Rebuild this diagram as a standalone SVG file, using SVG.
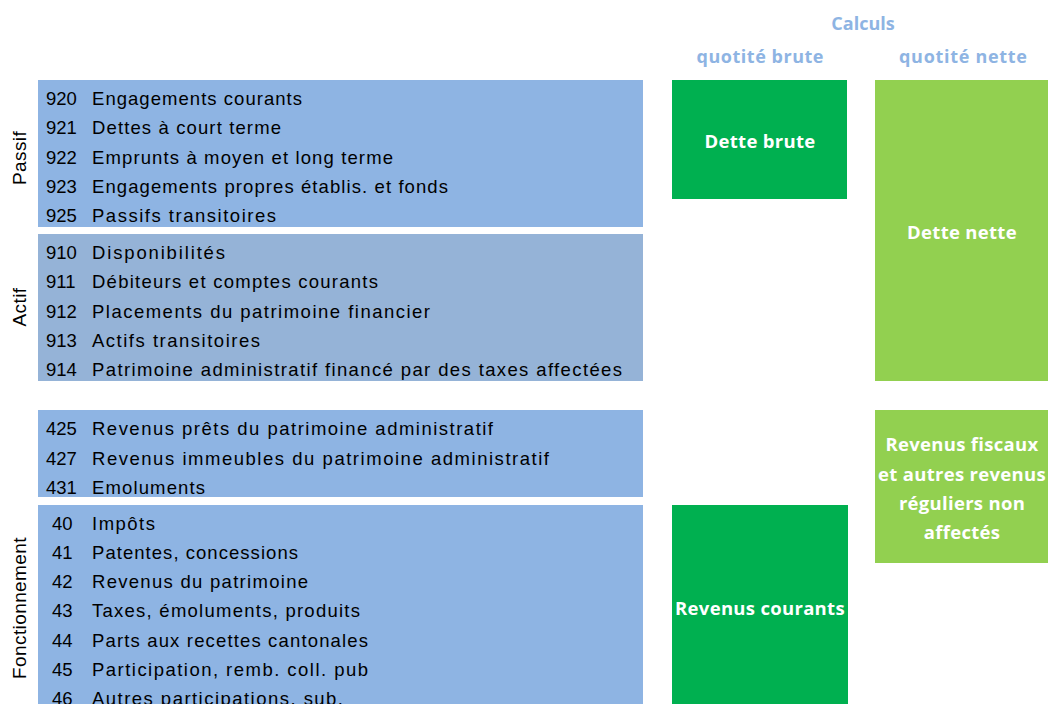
<svg xmlns="http://www.w3.org/2000/svg" width="1048" height="704" viewBox="0 0 1048 704">
<style>
.blue{fill:#8EB4E3}
.blue2{fill:#95B3D7}
.dg{fill:#00B050}
.lg{fill:#92D050}
.t{font-family:"Liberation Sans",Arial,sans-serif;font-size:18.5px;fill:#000}
.h{font-family:"Open Sans","Liberation Sans",sans-serif;font-size:18px;font-weight:bold;fill:#8EB4E3;text-anchor:middle}
.w{font-family:"Open Sans","Liberation Sans",sans-serif;font-size:18.5px;font-weight:bold;fill:#fff;text-anchor:middle;letter-spacing:0.3px}
.v{font-family:"Liberation Sans",Arial,sans-serif;font-size:19px;fill:#000;text-anchor:middle;letter-spacing:0.4px}
</style>
<rect width="1048" height="704" fill="#fff"/>
<g id="headers">
<text class="h" x="863" y="30">Calculs</text>
<text class="h" x="760" y="63" textLength="127" lengthAdjust="spacing">quotité brute</text>
<text class="h" x="963" y="63" textLength="128" lengthAdjust="spacing">quotité nette</text>
</g>
<g id="passif">
<rect class="blue" x="38" y="80" width="605" height="147"/>
<text class="v" transform="translate(26,158) rotate(-90)">Passif</text>
<text class="t" x="46" y="105">920</text><text class="t" x="92" y="105" textLength="210" lengthAdjust="spacing">Engagements courants</text>
<text class="t" x="46" y="134">921</text><text class="t" x="92" y="134" textLength="189" lengthAdjust="spacing">Dettes à court terme</text>
<text class="t" x="46" y="164">922</text><text class="t" x="92" y="164" textLength="301" lengthAdjust="spacing">Emprunts à moyen et long terme</text>
<text class="t" x="46" y="193">923</text><text class="t" x="92" y="193" textLength="356" lengthAdjust="spacing">Engagements propres établis. et fonds</text>
<text class="t" x="46" y="222">925</text><text class="t" x="92" y="222" textLength="184" lengthAdjust="spacing">Passifs transitoires</text>
</g>
<g id="actif">
<rect class="blue2" x="38" y="234" width="605" height="147"/>
<text class="v" transform="translate(26,307) rotate(-90)">Actif</text>
<text class="t" x="46" y="259">910</text><text class="t" x="92" y="259" textLength="133" lengthAdjust="spacing">Disponibilités</text>
<text class="t" x="46" y="288">911</text><text class="t" x="92" y="288" textLength="286" lengthAdjust="spacing">Débiteurs et comptes courants</text>
<text class="t" x="46" y="318">912</text><text class="t" x="92" y="318" textLength="338" lengthAdjust="spacing">Placements du patrimoine financier</text>
<text class="t" x="46" y="347">913</text><text class="t" x="92" y="347" textLength="168" lengthAdjust="spacing">Actifs transitoires</text>
<text class="t" x="46" y="376">914</text><text class="t" x="92" y="376" textLength="530" lengthAdjust="spacing">Patrimoine administratif financé par des taxes affectées</text>
</g>
<g id="revenus">
<rect class="blue" x="38" y="410" width="605" height="87"/>
<text class="t" x="46" y="435">425</text><text class="t" x="92" y="435" textLength="401" lengthAdjust="spacing">Revenus prêts du patrimoine administratif</text>
<text class="t" x="46" y="465">427</text><text class="t" x="92" y="465" textLength="457" lengthAdjust="spacing">Revenus immeubles du patrimoine administratif</text>
<text class="t" x="46" y="494">431</text><text class="t" x="92" y="494" textLength="113" lengthAdjust="spacing">Emoluments</text>
</g>
<g id="fonctionnement">
<rect class="blue" x="38" y="505" width="605" height="199"/>
<text class="v" transform="translate(26,608) rotate(-90)">Fonctionnement</text>
<text class="t" x="52" y="530">40</text><text class="t" x="92" y="530" textLength="63" lengthAdjust="spacing">Impôts</text>
<text class="t" x="52" y="559">41</text><text class="t" x="92" y="559" textLength="206" lengthAdjust="spacing">Patentes, concessions</text>
<text class="t" x="52" y="588">42</text><text class="t" x="92" y="588" textLength="216" lengthAdjust="spacing">Revenus du patrimoine</text>
<text class="t" x="52" y="617">43</text><text class="t" x="92" y="617" textLength="268" lengthAdjust="spacing">Taxes, émoluments, produits</text>
<text class="t" x="52" y="647">44</text><text class="t" x="92" y="647" textLength="276" lengthAdjust="spacing">Parts aux recettes cantonales</text>
<text class="t" x="52" y="676">45</text><text class="t" x="92" y="676" textLength="276" lengthAdjust="spacing">Participation, remb. coll. pub</text>
<text class="t" x="52" y="705">46</text><text class="t" x="92" y="705" textLength="251" lengthAdjust="spacing">Autres participations, sub.</text>
</g>
<g id="dette-brute">
<rect class="dg" x="672" y="80" width="175" height="119"/>
<text class="w" x="760" y="148">Dette brute</text>
</g>
<g id="dette-nette">
<rect class="lg" x="875" y="80" width="173" height="301"/>
<text class="w" x="962" y="239">Dette nette</text>
</g>
<g id="revenus-fiscaux">
<rect class="lg" x="875" y="410" width="173" height="153"/>
<text class="w" x="962" y="451">Revenus fiscaux</text>
<text class="w" x="962" y="481">et autres revenus</text>
<text class="w" x="962" y="510">réguliers non</text>
<text class="w" x="962" y="539">affectés</text>
</g>
<g id="revenus-courants">
<rect class="dg" x="672" y="505" width="176" height="199"/>
<text class="w" x="760" y="615">Revenus courants</text>
</g>
<g id="connectors"/>
</svg>
